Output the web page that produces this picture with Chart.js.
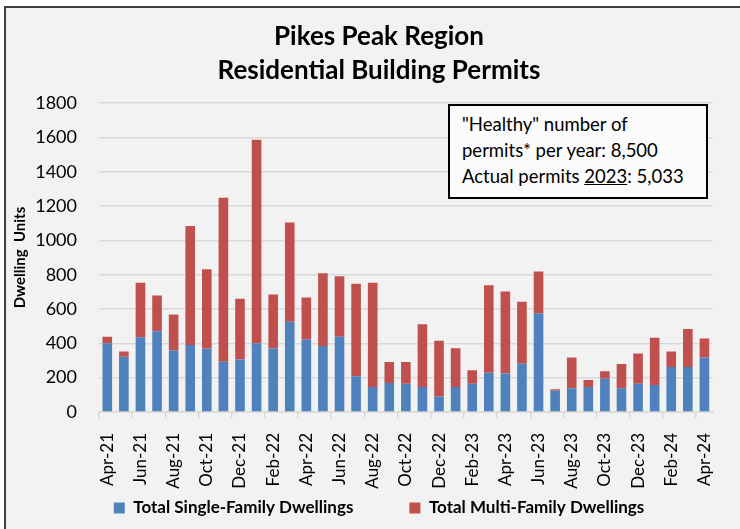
<!DOCTYPE html>
<html>
<head>
<meta charset="utf-8">
<script src="https://cdn.jsdelivr.net/npm/chart.js@4/dist/chart.umd.min.js"></script>
<style>
html, body { margin:0; padding:0; background:#ffffff; width:740px; height:529px; overflow:hidden; }
#frame { position:absolute; left:4px; top:6px; width:780px; height:600px; border:2px solid #404040; background:#f2f2f2; }
#c { position:absolute; left:0; top:0; }
#note { position:absolute; left:448px; top:104px; width:260px; height:95px; box-sizing:border-box;
        border:2px solid #000; background:#fbfbfb; font-family:Lato, sans-serif; font-size:18.5px;
        line-height:26px; padding:5px 0 0 12px; color:#000; white-space:nowrap; }
</style>
</head>
<body>
<div id="frame"></div>
<canvas id="c" width="740" height="529"></canvas>
<div id="note">"Healthy" number of<br>permits* per year: 8,500<br>Actual permits <u>2023</u>: 5,033</div>
<script>
const months = ['Apr-21','May-21','Jun-21','Jul-21','Aug-21','Sep-21','Oct-21','Nov-21','Dec-21',
  'Jan-22','Feb-22','Mar-22','Apr-22','May-22','Jun-22','Jul-22','Aug-22','Sep-22','Oct-22','Nov-22','Dec-22',
  'Jan-23','Feb-23','Mar-23','Apr-23','May-23','Jun-23','Jul-23','Aug-23','Sep-23','Oct-23','Nov-23','Dec-23',
  'Jan-24','Feb-24','Mar-24','Apr-24'];
const singleFamily = [400,322,435,471,359,390,370,293,306,400,370,526,423,384,438,208,146,169,165,146,91,
  146,165,229,225,281,574,124,138,146,194,138,165,157,262,262,318];
const multiFamily = [38,31,318,208,209,694,462,956,354,1187,315,578,244,425,353,539,607,122,126,366,324,
  226,78,510,477,361,245,8,180,40,43,141,176,276,91,221,111];
const yTicks = [0,200,400,600,800,1000,1200,1400,1600,1800];
const seriesNames = ['Total Single-Family Dwellings','Total Multi-Family Dwellings'];
const titleLines = ['Pikes Peak Region','Residential Building Permits'];

Chart.defaults.font.family = 'Lato';
Chart.defaults.color = '#000';

new Chart(document.getElementById('c'), {
  type: 'bar',
  data: {
    labels: months,
    datasets: [
      { label: seriesNames[0], data: singleFamily, backgroundColor: '#4f81bd', barPercentage: 0.58, categoryPercentage: 1 },
      { label: seriesNames[1], data: multiFamily, backgroundColor: '#c0504d', barPercentage: 0.58, categoryPercentage: 1 }
    ]
  },
  options: {
    responsive: false,
    animation: false,
    layout: { padding: { left: 31, right: 13, top: 20, bottom: 2.5 } },
    plugins: {
      title: { display: true, text: titleLines, color: '#000',
               font: { size: 26, weight: 'bold', lineHeight: 1.31 }, padding: { top: 0, bottom: 15 } },
      legend: { position: 'bottom',
                labels: { boxWidth: 11, boxHeight: 11, padding: 56, color: '#000',
                          font: { size: 17, weight: 'bold' } } },
      tooltip: { enabled: false }
    },
    scales: {
      x: {
        stacked: true,
        grid: { offset: true, drawOnChartArea: false, drawTicks: true, tickLength: 6, lineWidth: 1.5,
                color: (c) => (c.index % 2 === 0 ? '#d9d9d9' : 'rgba(0,0,0,0)') },
        border: { display: true, color: '#d9d9d9', width: 1.5 },
        ticks: { autoSkip: false, maxRotation: 90, minRotation: 90, padding: 15, font: { size: 17 },
                 callback: (v, i) => (i % 2 === 0 ? months[i] : '') },
        afterFit: (s) => { s.height = 31.5; s._computeLabelArea = () => undefined; }
      },
      y: {
        stacked: true, min: 0, max: 1800,
        afterBuildTicks: (s) => { s.ticks = yTicks.map(v => ({ value: v })); },
        ticks: { padding: 22, font: { size: 18 }, callback: (v) => String(v) },
        grid: { color: '#d9d9d9', lineWidth: 1.5, drawTicks: false },
        border: { display: false },
        title: { display: true, text: 'Dwelling  Units', font: { size: 15, weight: 'bold' }, padding: { top: -20 } },
        afterFit: (s) => { s.width = 68; }
      }
    }
  }
});
</script>
</body>
</html>
